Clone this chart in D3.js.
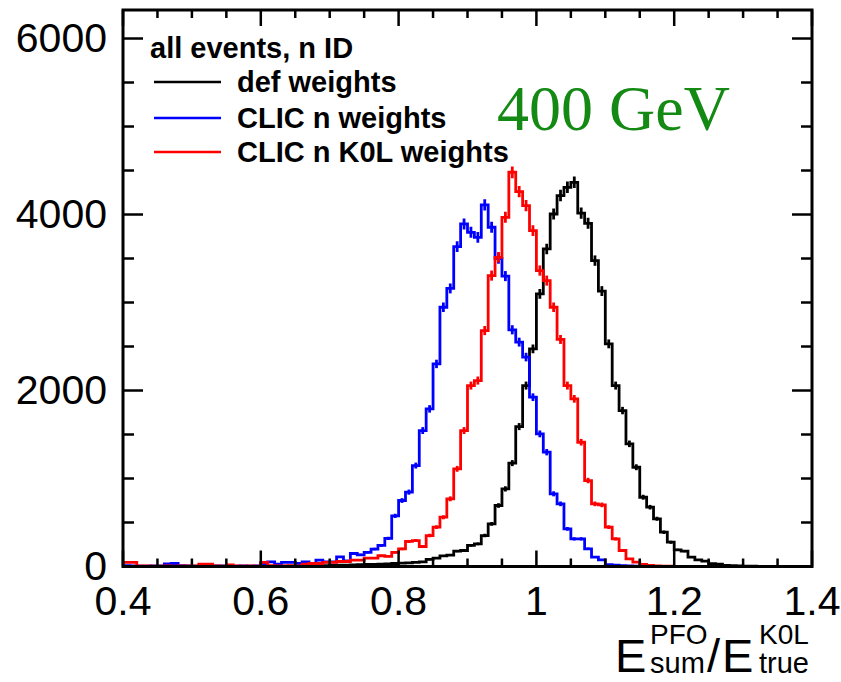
<!DOCTYPE html>
<html><head><meta charset="utf-8">
<script src="https://cdn.jsdelivr.net/npm/d3@7"></script>
<style>body{margin:0;background:#fff}svg{display:block}</style>
</head><body>
<svg id="c" width="841" height="682"></svg>
<script>
// ---- data ----
const binLow = 0.4, binWidth = 0.01;
const xTickLabels = ["0.4","0.6","0.8","1","1.2","1.4"];
const xTickValues = [0.4,0.6,0.8,1.0,1.2,1.4];
const yTickLabels = ["0","2000","4000","6000"];
const yTickValues = [0,2000,4000,6000];
const seriesNames = ["def weights","CLIC n weights","CLIC n K0L weights"];
const seriesColors = ["#000000","#0000ff","#ff0000"];
const defWeights = [
 0,0,0,0,0,0,0,0,0,0,
 0,0,0,0,0,0,2,0,0,2,
 3,2,4,3,5,6,6,8,10,11,
 12,14,15,18,20,23,25,27,30,34,
 38,42,48,52,80,95,120,130,174,182,
 239,257,352,485,693,882,1175,1590,2056,2473,
 3098,3609,4006,4215,4309,4366,4015,3900,3476,3130,
 2530,2056,1772,1394,1128,787,674,542,390,276,
 189,174,106,76,61,32,28,12,10,6,
 4,3,2,2,1,1,0,0,0,0];
const clicNWeights = [
 10,8,5,5,6,8,30,34,10,6,
 5,6,5,8,6,5,4,6,5,8,
 34,53,27,46,46,34,53,19,72,53,
 53,110,65,148,133,160,198,240,320,575,
 750,845,1147,1545,1791,2302,2946,3160,3635,3893,
 3798,3741,4110,3855,3500,3300,2690,2550,2380,1924,
 1507,1299,826,712,428,314,314,201,106,76,
 20,15,10,6,4,3,2,1,0,0,
 0,0,0,0,0,0,0,0,0,0,
 0,0,0,0,0,0,0,0,0,0];
const clicNK0LWeights = [
 46,46,8,6,5,5,6,5,6,8,
 6,27,27,6,5,19,6,5,6,5,
 46,10,8,8,10,8,27,34,34,46,
 46,57,57,72,72,95,95,122,115,160,
 200,285,295,227,352,447,560,769,1110,1545,
 2056,2113,2681,3306,3514,3968,4480,4260,4100,3817,
 3363,3249,2946,2580,2056,1905,1412,977,712,700,
 447,314,182,87,49,25,12,6,4,3,
 2,2,1,1,0,0,0,0,0,0,
 0,0,0,0,0,0,0,0,0,0];
const series = [defWeights, clicNWeights, clicNK0LWeights];

// ---- layout ----
const L = 123, R = 812, T = 10, B = 566.5;
const svg = d3.select("#c");
const x = d3.scaleLinear().domain([0.4,1.4]).range([L,R]);
const y = d3.scaleLinear().domain([0,6324]).range([B,T]);

svg.append("defs").append("clipPath").attr("id","frame")
  .append("rect").attr("x",L).attr("y",T).attr("width",R-L).attr("height",B-T);

const g = svg.append("g").attr("clip-path","url(#frame)");
const line = d3.line().x(d=>x(d[0])).y(d=>y(d[1]));
series.forEach((vals,si)=>{
  const pts = [];
  vals.forEach((v,i)=>{
    const lo = binLow + i*binWidth;
    pts.push([lo, v]); pts.push([lo+binWidth, v]);
  });
  g.append("path").attr("d", line(pts)).attr("fill","none")
    .attr("stroke", seriesColors[si]).attr("stroke-width",2.8);
  vals.forEach((v,i)=>{
    if (v<=0) return;
    const c = binLow + (i+0.5)*binWidth, e = Math.sqrt(v);
    g.append("line").attr("x1",x(c)).attr("x2",x(c))
      .attr("y1",y(v-e)).attr("y2",y(v+e))
      .attr("stroke",seriesColors[si]).attr("stroke-width",2.8);
  });
});

// ---- frame & ticks ----
const ax = svg.append("g").attr("stroke","#000");
ax.append("rect").attr("x",L).attr("y",T).attr("width",R-L).attr("height",B-T)
  .attr("fill","none").attr("stroke-width",3);
d3.range(0,21).forEach(k=>{
  const v = 0.4 + k*0.05, major = (k%4===0);
  const len = major?16:8, xx = x(v);
  ax.append("line").attr("x1",xx).attr("x2",xx).attr("y1",B).attr("y2",B-len).attr("stroke-width",2.5);
  ax.append("line").attr("x1",xx).attr("x2",xx).attr("y1",T).attr("y2",T+len).attr("stroke-width",2.5);
});
d3.range(0,13).forEach(k=>{
  const v = k*500, major = (k%4===0);
  const len = major?20:11, yy = y(v);
  ax.append("line").attr("x1",L).attr("x2",L+len).attr("y1",yy).attr("y2",yy).attr("stroke-width",2.5);
  ax.append("line").attr("x1",R).attr("x2",R-len).attr("y1",yy).attr("y2",yy).attr("stroke-width",2.5);
});

// ---- tick labels ----
const font = "'Liberation Sans', Arial, Helvetica, sans-serif";
xTickValues.forEach((v,i)=>{
  svg.append("text").attr("x",x(v)).attr("y",615).attr("text-anchor","middle")
    .attr("font-family",font).attr("font-size",41).text(xTickLabels[i]);
});
yTickValues.forEach((v,i)=>{
  svg.append("text").attr("x",107).attr("y",y(v)).attr("dy","0.34em").attr("text-anchor","end")
    .attr("font-family",font).attr("font-size",41).text(yTickLabels[i]);
});

// ---- axis title ----
const at = svg.append("g").attr("font-family",font);
at.append("text").attr("x",615).attr("y",672).attr("font-size",47).text("E");
at.append("text").attr("x",650).attr("y",644).attr("font-size",28).text("PFO");
at.append("text").attr("x",650).attr("y",673).attr("font-size",29).text("sum");
at.append("text").attr("x",707).attr("y",672).attr("font-size",47).text("/");
at.append("text").attr("x",722).attr("y",672).attr("font-size",47).text("E");
at.append("text").attr("x",759).attr("y",644).attr("font-size",28).text("K0L");
at.append("text").attr("x",759).attr("y",673).attr("font-size",29).text("true");

// ---- legend ----
const lg = svg.append("g").attr("font-family",font).attr("font-weight","bold").attr("font-size",29);
lg.append("text").attr("x",150).attr("y",58).text("all events, n ID");
const rows = [92,128,162];
seriesNames.forEach((n,i)=>{
  lg.append("line").attr("x1",154).attr("x2",221).attr("y1",rows[i]-10).attr("y2",rows[i]-10)
    .attr("stroke",seriesColors[i]).attr("stroke-width",2.5);
  lg.append("text").attr("x",237).attr("y",rows[i]).text(n);
});

// ---- energy label ----
svg.append("text").attr("x",497).attr("y",130)
  .attr("font-family","'Liberation Serif','Times New Roman',serif").attr("font-size",64)
  .attr("fill","#148a14").text("400 GeV");
</script>
</body></html>
